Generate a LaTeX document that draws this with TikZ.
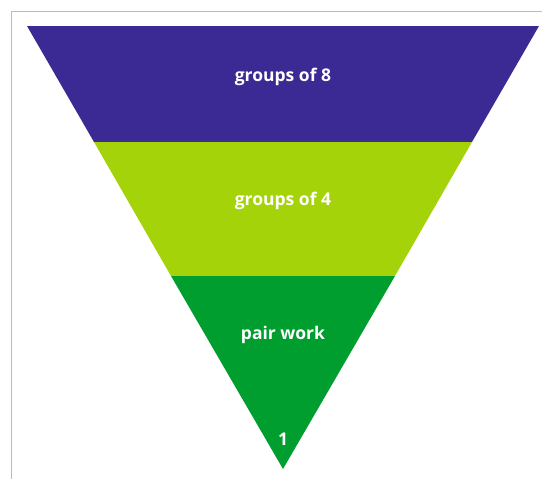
\documentclass[tikz,border=0pt]{standalone}
\usepackage{fontspec}
\setmainfont{Open Sans}
\definecolor{cpurple}{HTML}{3B2A93}
\definecolor{clime}{HTML}{A4D309}
\definecolor{cgreen}{HTML}{009E2E}
\definecolor{cframe}{HTML}{BBBBBB}
\begin{document}
\begin{tikzpicture}[x=1pt,y=-1pt,
  lbl/.style={text=white,inner sep=0pt,font=\fontsize{17.5}{20}\selectfont\bfseries}]
\useasboundingbox (0,0) rectangle (542,479);
\draw[cframe,line width=1pt] (11,479) -- (11,11) -- (542,11);
\coordinate (tl) at (27,26);
\coordinate (tr) at (539,26);
\coordinate (ap) at (283,469);
\coordinate (l1) at (94,142);
\coordinate (r1) at (472,142);
\coordinate (l2) at (171,276);
\coordinate (r2) at (395,276);
\fill[cpurple] (tl) -- (tr) -- (r1) -- (l1) -- cycle;
\fill[clime] (l1) -- (r1) -- (r2) -- (l2) -- cycle;
\fill[cgreen] (l2) -- (r2) -- (ap) -- cycle;
\node[lbl] (t1) at (283,77) {groups of 8};
\node[lbl] (t2) at (283,201) {groups of 4};
\node[lbl] (t3) at (283,335) {pair work};
\node[lbl] (t4) at (283,439) {1};
\end{tikzpicture}
\end{document}
